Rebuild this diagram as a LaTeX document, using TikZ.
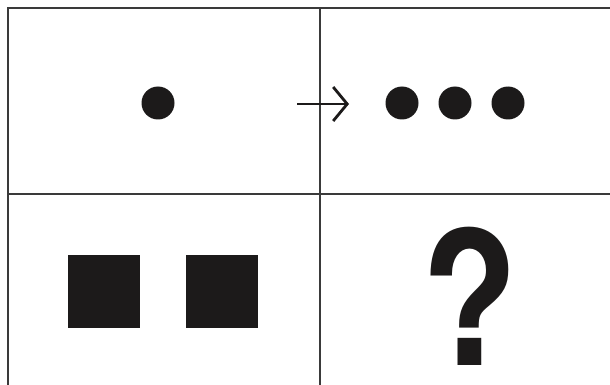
\documentclass[tikz,border=0pt]{standalone}
\usepackage{fontspec}
\setmainfont{TeX Gyre Heros}
\usetikzlibrary{arrows.meta}
\definecolor{ink}{HTML}{1C1A1A}
\definecolor{rule}{HTML}{3A3A3A}
\tikzset{
  gridline/.style={draw=rule, line width=1.6pt},
  dotshape/.style={circle, fill=ink, minimum size=33pt, inner sep=0pt},
  sqshape/.style={rectangle, fill=ink, minimum width=72pt, minimum height=73pt, inner sep=0pt},
  arr/.style={draw=ink, line width=2.8pt, -{Straight Barb[length=14pt,width=34pt,line width=2.8pt]}}
}
\begin{document}
\begin{tikzpicture}[x=1pt,y=-1pt]
\useasboundingbox (0,0) rectangle (610,385);
\fill[white] (0,0) rectangle (610,385);
% grid
\coordinate (tl) at (8,8);
\coordinate (tr) at (612,8);
\coordinate (ml) at (8,194);
\coordinate (mr) at (612,194);
\coordinate (bl) at (8,387);
\coordinate (vt) at (320,8);
\coordinate (vb) at (320,387);
\draw[gridline] (tr) -- (tl) -- (bl);
\draw[gridline] (ml) -- (mr);
\draw[gridline] (vt) -- (vb);
% top-left dot
\node[dotshape] (d0) at (158,103) {};
% arrow
\coordinate (a0) at (297,104);
\coordinate (a1) at (349,104);
\draw[arr] (a0) -- (a1);
% three dots
\node[dotshape] (d1) at (402,103) {};
\node[dotshape] (d2) at (455,103) {};
\node[dotshape] (d3) at (508,103) {};
% squares
\node[sqshape] (s1) at (104,291.5) {};
\node[sqshape] (s2) at (222,291.5) {};
% question mark
\node[anchor=base, inner sep=0pt, text=ink, xscale=0.85] (q) at (470,365)
  {\fontsize{186}{186}\selectfont\bfseries ?};
\end{tikzpicture}
\end{document}
